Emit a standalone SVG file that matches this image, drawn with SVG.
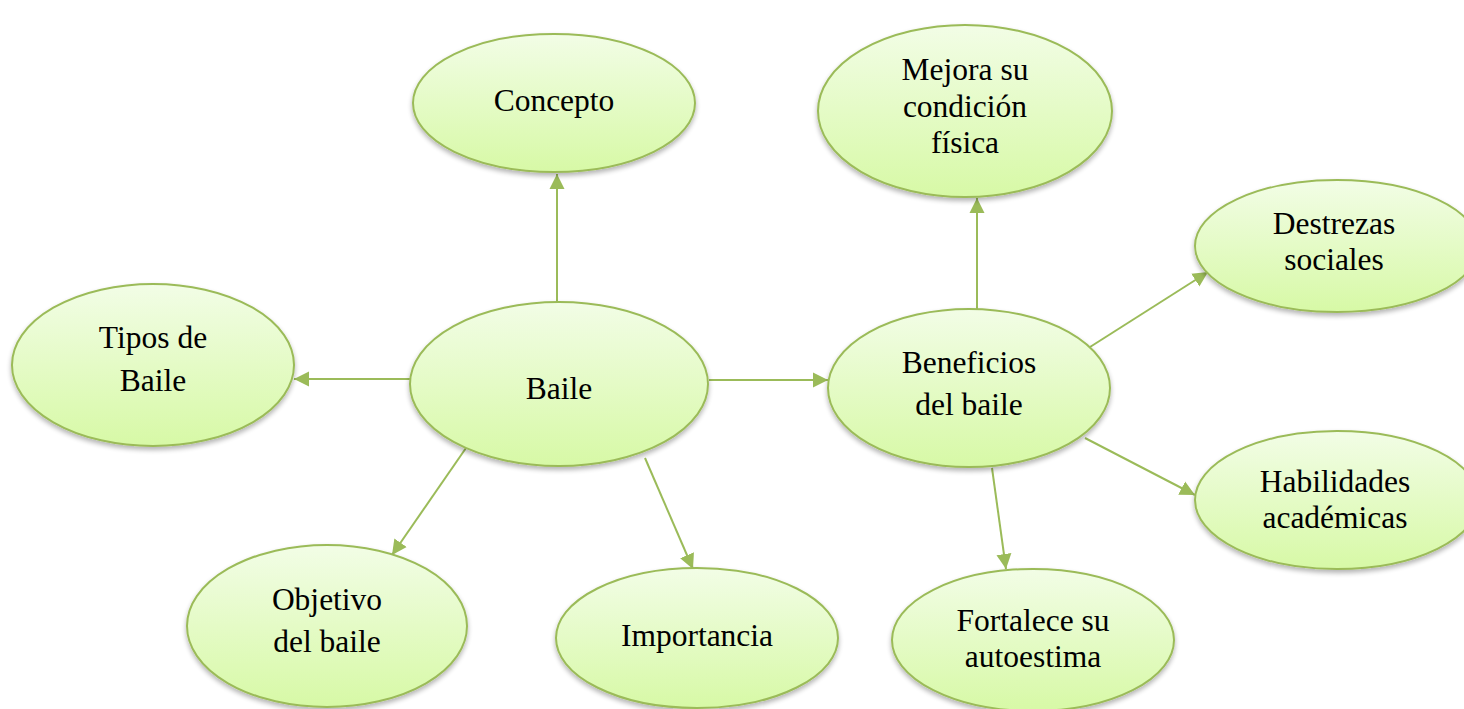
<svg xmlns="http://www.w3.org/2000/svg" width="1464" height="709" viewBox="0 0 1464 709">
<style>
.n{fill:url(#g);stroke:#9bbb59;stroke-width:2;filter:url(#sh)}
.t{font-family:"Liberation Serif","Times New Roman",serif;font-size:31.5px;fill:#000;text-anchor:middle}
.c{stroke:#9bbb59;stroke-width:2;fill:none;marker-end:url(#a)}
</style>
<defs>
<linearGradient id="g" x1="0" y1="0" x2="0" y2="1">
<stop offset="0" stop-color="#f2fde6"/>
<stop offset="1" stop-color="#d7f9a6"/>
</linearGradient>
<filter id="sh" x="-10%" y="-10%" width="120%" height="130%">
<feGaussianBlur in="SourceAlpha" stdDeviation="2.5"/>
<feOffset dx="0" dy="3" result="b"/>
<feComponentTransfer><feFuncA type="linear" slope="0.3"/></feComponentTransfer>
<feMerge><feMergeNode/><feMergeNode in="SourceGraphic"/></feMerge>
</filter>
<marker id="a" markerUnits="userSpaceOnUse" markerWidth="16" markerHeight="16" refX="15" refY="8" orient="auto">
<path d="M0,0.5 L15,8 L0,15.5 z" fill="#9bbb59"/>
</marker>
</defs>
<g id="connectors">
<line class="c" x1="557" y1="302" x2="557" y2="174"/>
<line class="c" x1="410" y1="379" x2="294" y2="379"/>
<line class="c" x1="709" y1="380" x2="828" y2="380"/>
<line class="c" x1="466" y1="448" x2="392" y2="555"/>
<line class="c" x1="645" y1="458" x2="693" y2="569"/>
<line class="c" x1="977" y1="309" x2="977" y2="198"/>
<line class="c" x1="1090" y1="347" x2="1208" y2="272"/>
<line class="c" x1="1085" y1="438" x2="1195" y2="495"/>
<line class="c" x1="992" y1="468" x2="1006" y2="569"/>
</g>
<g id="concepto">
<ellipse class="n" cx="554" cy="103" rx="141" ry="69"/>
<text class="t" x="554" y="111">Concepto</text>
</g>
<g id="mejora">
<ellipse class="n" cx="965" cy="111" rx="147" ry="86"/>
<text class="t" x="965" y="80">Mejora su</text>
<text class="t" x="965" y="117">condición</text>
<text class="t" x="965" y="153">física</text>
</g>
<g id="destrezas">
<ellipse class="n" cx="1337" cy="246" rx="142" ry="66"/>
<text class="t" x="1334" y="234">Destrezas</text>
<text class="t" x="1334" y="270">sociales</text>
</g>
<g id="tipos">
<ellipse class="n" cx="153" cy="365" rx="141" ry="81"/>
<text class="t" x="153" y="348">Tipos de</text>
<text class="t" x="153" y="391">Baile</text>
</g>
<g id="baile">
<ellipse class="n" cx="559" cy="384" rx="149" ry="82"/>
<text class="t" x="559" y="399">Baile</text>
</g>
<g id="beneficios">
<ellipse class="n" cx="969" cy="388" rx="141" ry="79"/>
<text class="t" x="969" y="373">Beneficios</text>
<text class="t" x="969" y="415">del baile</text>
</g>
<g id="habilidades">
<ellipse class="n" cx="1337" cy="500" rx="142" ry="69"/>
<text class="t" x="1335" y="492">Habilidades</text>
<text class="t" x="1335" y="528">académicas</text>
</g>
<g id="objetivo">
<ellipse class="n" cx="327" cy="626" rx="140" ry="81"/>
<text class="t" x="327" y="610">Objetivo</text>
<text class="t" x="327" y="652">del baile</text>
</g>
<g id="importancia">
<ellipse class="n" cx="697" cy="638" rx="141" ry="70"/>
<text class="t" x="697" y="646">Importancia</text>
</g>
<g id="fortalece">
<ellipse class="n" cx="1033" cy="640" rx="141" ry="71"/>
<text class="t" x="1033" y="631">Fortalece su</text>
<text class="t" x="1033" y="667">autoestima</text>
</g>
</svg>
